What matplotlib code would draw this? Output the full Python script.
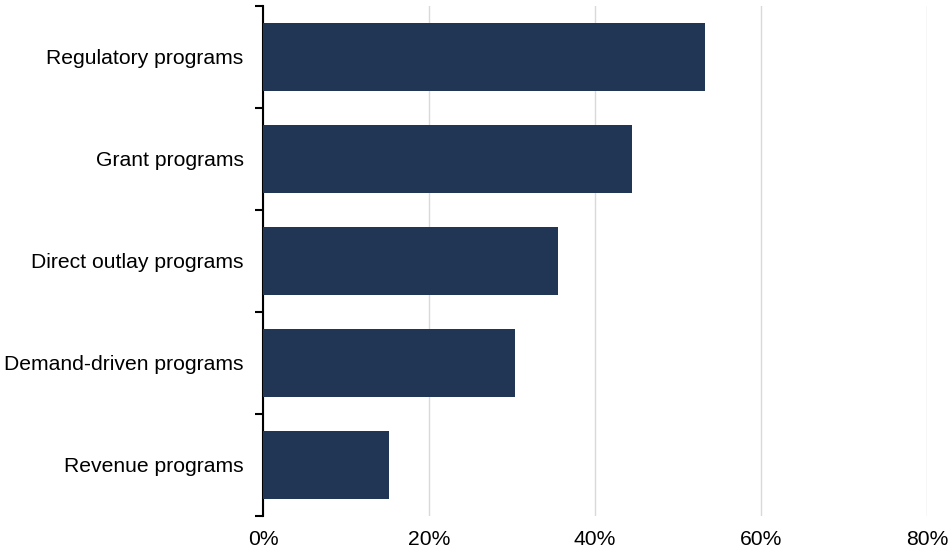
import matplotlib
matplotlib.use("Agg")
import matplotlib.pyplot as plt
from matplotlib.ticker import FixedLocator, FuncFormatter

categories = ["Regulatory programs", "Grant programs", "Direct outlay programs",
              "Demand-driven programs", "Revenue programs"]
values = [53.2, 44.4, 35.5, 30.4, 15.2]
xticks = [0, 20, 40, 60, 80]

plt.rcParams['font.family'] = ['Liberation Sans', 'DejaVu Sans']

fig = plt.figure(figsize=(9.5, 5.51), dpi=100)
ax = fig.add_axes([263/950, 1-516/551, (927-263)/950, (516-6)/551])

n = len(categories)
ys = list(range(n))
ax.barh(ys, values, height=0.66, color='#213555', zorder=3)
ax.set_ylim(n - 0.5, -0.5)
ax.set_xlim(0, 80)

ax.set_xticks(xticks)
ax.xaxis.set_major_formatter(FuncFormatter(lambda v, p: f"{v:.0f}%"))
ax.tick_params(axis='x', length=0, labelsize=15.2, pad=10)
ax.grid(axis='x', color='#d9d9d9', lw=1, zorder=0)

ax.set_yticks(ys)
ax.set_yticklabels(categories)
ax.tick_params(axis='y', which='major', length=0, labelsize=15.2, pad=14)
ax.yaxis.set_minor_locator(FixedLocator([i - 0.5 for i in range(n + 1)]))
ax.tick_params(axis='y', which='minor', length=6, width=1.5, color='black')

for s in ['top', 'right', 'bottom']:
    ax.spines[s].set_visible(False)
ax.spines['left'].set_linewidth(1.5)
ax.spines['left'].set_color('black')

fig.savefig("out.png", dpi=100)
